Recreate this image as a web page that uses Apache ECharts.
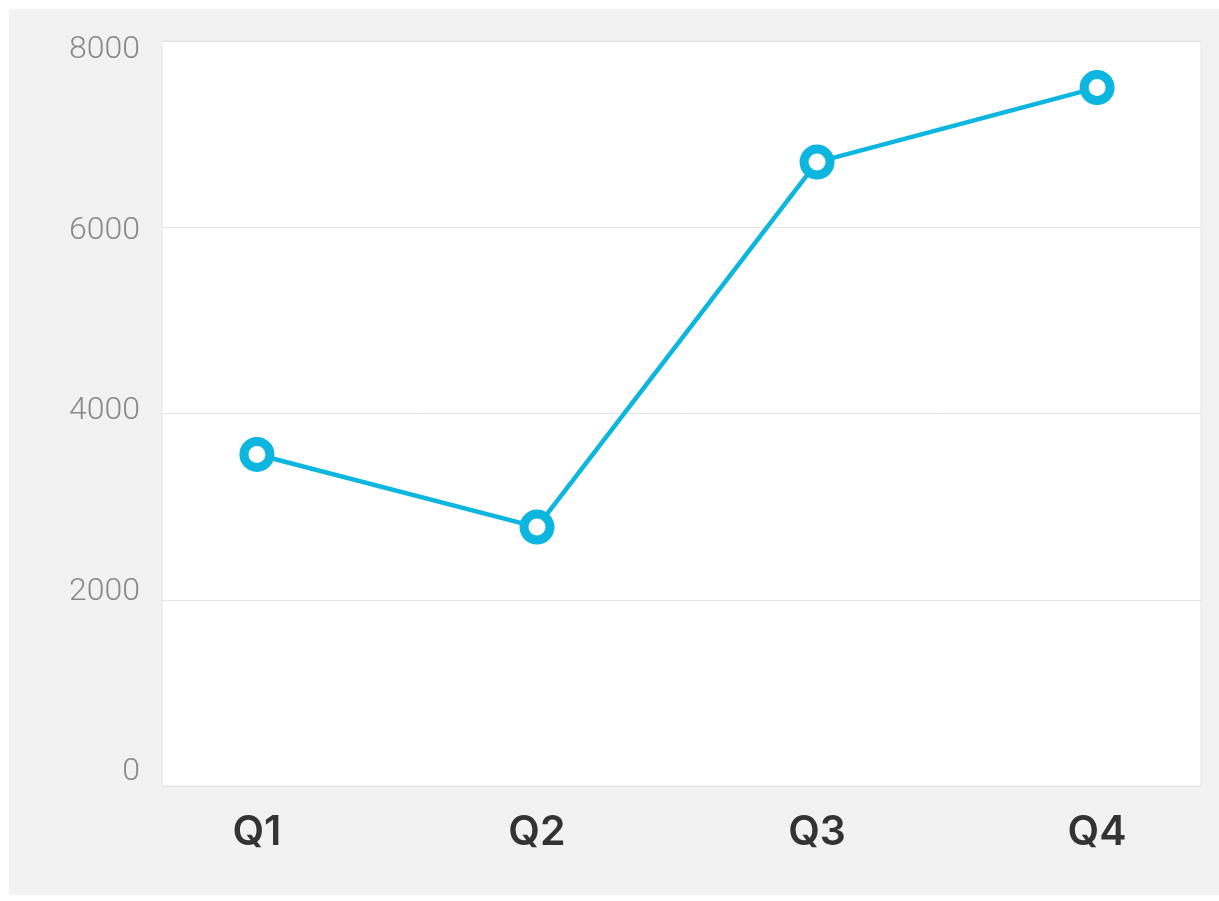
<!DOCTYPE html>
<html>
<head>
<meta charset="utf-8">
<script src="https://cdn.jsdelivr.net/npm/echarts@6/dist/echarts.min.js"></script>
<style>
  html, body { margin: 0; padding: 0; background: #fff; }
  #chart { position: absolute; left: 9px; top: 9px; width: 1210px; height: 886px; }
</style>
</head>
<body>
<div id="chart"></div>
<script>
    // quarterly values
    var categories = ['Q1', 'Q2', 'Q3', 'Q4'];
    var values = [3560, 2780, 6700, 7500];
    var yTicks = [0, 2000, 4000, 6000, 8000];

    var lineColor = '#0cb6df';

    var points = [];
    for (var i = 0; i < values.length; i++) {
        points.push([i, values[i]]);
    }

    var chart = echarts.init(document.getElementById('chart'));
    var option = {
        animation: false,
        backgroundColor: '#f2f2f2',
        grid: {
            left: 153,
            top: 32,
            right: 18,
            bottom: 109,
            show: true,
            backgroundColor: '#fff',
            borderColor: '#e6e6e6',
            borderWidth: 1
        },
        xAxis: {
            type: 'value',
            min: -0.339,
            max: 3.371,
            axisLine: { show: false },
            axisTick: { show: false },
            splitLine: { show: false },
            axisLabel: {
                customValues: [0, 1, 2, 3],
                formatter: function (v) { return categories[Math.round(v)]; },
                margin: 26,
                fontFamily: 'Inter',
                fontWeight: 600,
                fontSize: 41,
                color: '#333'
            }
        },
        yAxis: [{
            type: 'value',
            min: 0,
            max: 8000,
            interval: 2000,
            axisLine: { show: false },
            axisTick: { show: false },
            axisLabel: { show: false },
            splitLine: { lineStyle: { color: '#e3e3e3', width: 1 } }
        }, {
            // labels sit a little inside the gridlines in the original
            type: 'value',
            position: 'left',
            offset: 0,
            min: -155,
            max: 8100,
            axisLine: { show: false },
            axisTick: { show: false },
            splitLine: { show: false },
            axisLabel: {
                customValues: yTicks,
                formatter: function (v) { return String(v); },
                margin: 22,
                fontFamily: 'Roboto',
                fontWeight: 300,
                fontSize: 32,
                color: '#8a8a8a'
            }
        }],
        series: [{
            type: 'line',
            data: points,
            yAxisIndex: 0,
            symbol: 'circle',
            symbolSize: 26,
            lineStyle: { color: lineColor, width: 4.5 },
            itemStyle: { color: '#fff', borderColor: lineColor, borderWidth: 9 },
            z: 3
        }]
    };
    chart.setOption(option);
</script>
</body>
</html>
